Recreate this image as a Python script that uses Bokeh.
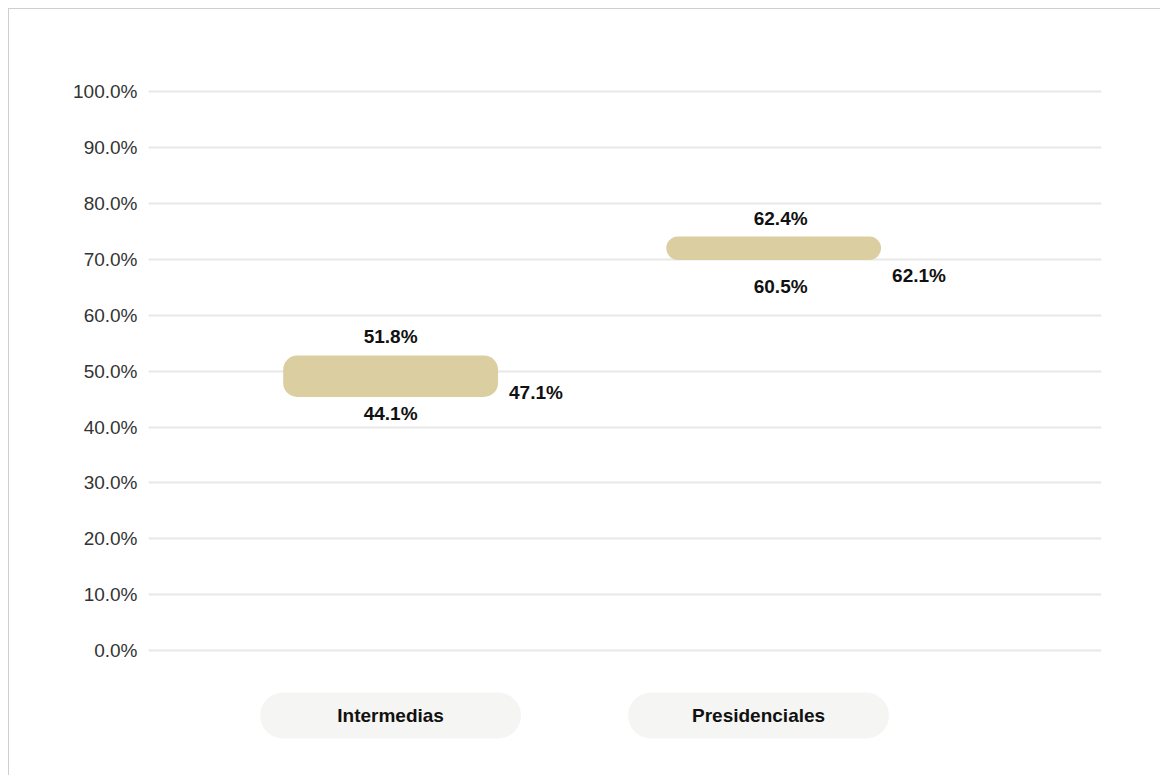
from bokeh.plotting import figure
from bokeh.models import Range1d, FixedTicker, PrintfTickFormatter, ColumnDataSource
from bokeh.core.properties import value
from bokeh.embed import file_html
from bokeh.resources import INLINE

# ---- data ----
categories = ["Intermedias", "Presidenciales"]
bar_low = [45.4, 69.9]
bar_high = [52.8, 74.1]
label_top = [51.8, 62.4]
label_bottom = [44.1, 60.5]
label_right = [47.1, 62.1]
y_ticks = [0, 10, 20, 30, 40, 50, 60, 70, 80, 90, 100]

# ---- layout / style constants ----
FONT = "Liberation Sans"
BAR_W = 0.584
BAR_DX = [0.0, 0.041]      # small horizontal shift of each bar (category units)
LABEL_DX = [0, 7]          # extra screen shift of top/bottom labels (px)
PILL_W = 0.709
PILL_TOP = -7.5
PILL_BOTTOM = -15.7
TOP_DY = [-19, -18]
BOT_DY = [17, 27]
RIGHT_DY = [-4, 16]

xs = [i + 0.5 for i in range(len(categories))]
bar_x = [x + d for x, d in zip(xs, BAR_DX)]

p = figure(width=1152, height=767, output_backend="svg", toolbar_location=None,
           x_range=Range1d(-0.158, 2.432), y_range=Range1d(-20, 102))
p.styles = {"margin-top": "8px", "margin-left": "8px",
            "border-top": "1px solid #cfcfcf", "border-left": "1px solid #cfcfcf"}
p.min_border_left = 139
p.min_border_right = 60
p.min_border_top = 71
p.min_border_bottom = 14
p.outline_line_color = None
p.background_fill_color = "white"
p.border_fill_color = "white"

p.xaxis.visible = False
p.xgrid.visible = False
p.yaxis.ticker = FixedTicker(ticks=y_ticks)
p.yaxis.formatter = PrintfTickFormatter(format="%.1f%%")
p.yaxis.axis_line_color = None
p.yaxis.major_tick_line_color = None
p.yaxis.minor_tick_line_color = None
p.yaxis.major_tick_out = 0
p.yaxis.major_tick_in = 0
p.yaxis.minor_tick_out = 0
p.yaxis.major_label_standoff = 11
p.yaxis.major_label_text_font = FONT
p.yaxis.major_label_text_font_size = "19px"
p.yaxis.major_label_text_color = "#333333"
p.ygrid.ticker = FixedTicker(ticks=y_ticks)
p.ygrid.grid_line_color = "#e8e8e8"
p.ygrid.grid_line_width = 2

src = ColumnDataSource(dict(
    x=xs, bx=bar_x, cat=categories, low=bar_low, high=bar_high,
    top_txt=[f"{v:.1f}%" for v in label_top],
    bot_txt=[f"{v:.1f}%" for v in label_bottom],
    right_txt=[f"{v:.1f}%" for v in label_right],
    right_x=[x + BAR_W / 2 for x in bar_x],
    label_dx=LABEL_DX,
    top_dy=TOP_DY, bot_dy=BOT_DY, right_dy=RIGHT_DY,
    pill_top=[PILL_TOP] * len(xs), pill_bottom=[PILL_BOTTOM] * len(xs),
    pill_y=[(PILL_TOP + PILL_BOTTOM) / 2] * len(xs),
))

# category pills
p.vbar(x="x", width=PILL_W, top="pill_top", bottom="pill_bottom", source=src,
       fill_color="#f5f5f3", line_color=None, border_radius=23)
p.text(x="x", y="pill_y", text="cat", source=src, text_align="center",
       text_baseline="middle", text_font=value(FONT), text_font_style="bold",
       text_font_size="19px", text_color="#111111")

# range bars
p.vbar(x="bx", width=BAR_W, top="high", bottom="low", source=src,
       fill_color="#dbcfa1", line_color=None, border_radius=14)

common = dict(source=src, text_baseline="middle", text_font=value(FONT),
              text_font_style="bold", text_font_size="19px", text_color="#111111")
p.text(x="bx", y="high", text="top_txt", x_offset="label_dx", y_offset="top_dy",
       text_align="center", **common)
p.text(x="bx", y="low", text="bot_txt", x_offset="label_dx", y_offset="bot_dy",
       text_align="center", **common)
p.text(x="right_x", y="low", text="right_txt", x_offset=11, y_offset="right_dy",
       text_align="left", **common)

open("out.html", "w").write(file_html(p, INLINE))
